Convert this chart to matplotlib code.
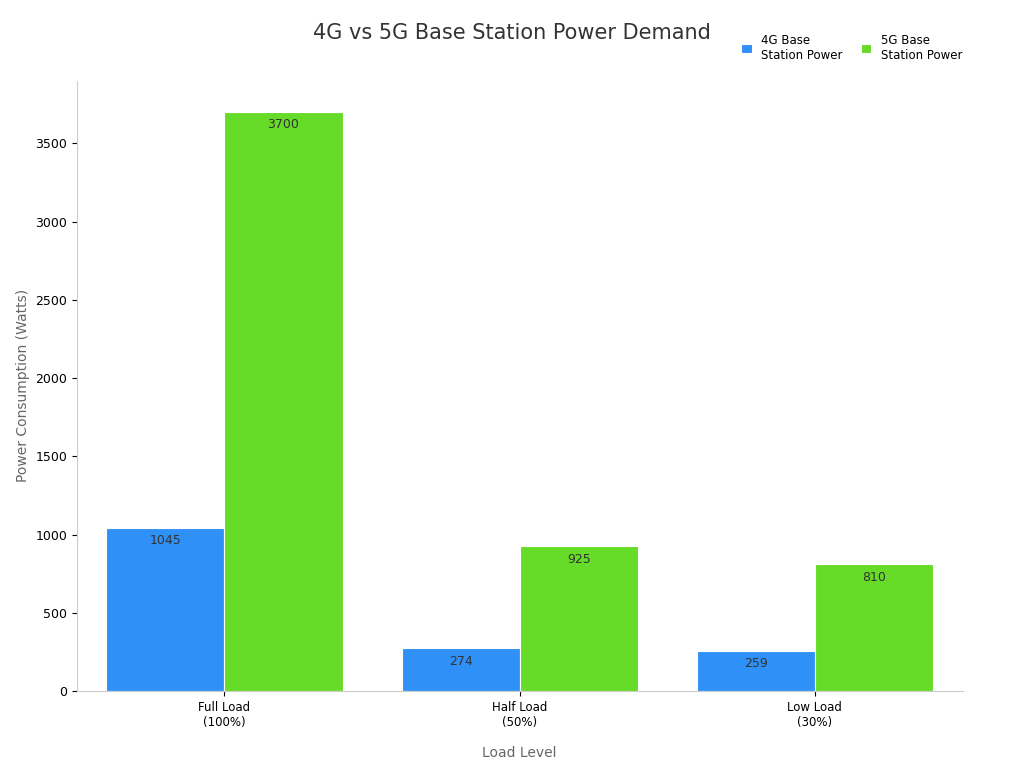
import matplotlib.pyplot as plt
import numpy as np

categories = ["Full Load\n(100%)", "Half Load\n(50%)", "Low Load\n(30%)"]
power_4g = [1045, 274, 259]
power_5g = [3700, 925, 810]

fig = plt.figure(figsize=(10.24, 7.68), dpi=100)
ax = fig.add_axes([0.075, 0.1, 0.865, 0.795])

x = np.arange(len(categories))
w = 0.4
b1 = ax.bar(x - w / 2, power_4g, w, color="#2f91f8", edgecolor="white", linewidth=0.8, label="4G Base\nStation Power")
b2 = ax.bar(x + w / 2, power_5g, w, color="#66db28", edgecolor="white", linewidth=0.8, label="5G Base\nStation Power")
for bars in (b1, b2):
    for r in bars:
        ax.text(r.get_x() + r.get_width() / 2, r.get_height() - 40, f"{int(r.get_height())}",
                ha="center", va="top", fontsize=9, color="#333333")

ax.set_xlim(-0.5, 2.5)
ax.set_ylim(0, 3900)
ax.set_yticks(range(0, 3501, 500))
ax.set_xticks(x)
ax.set_xticklabels(categories, fontsize=8.5)
ax.tick_params(axis="y", labelsize=9)
ax.set_xlabel("Load Level", fontsize=10, color="#666666", labelpad=12)
ax.set_ylabel("Power Consumption (Watts)", fontsize=10, color="#666666")
for s in ("top", "right"):
    ax.spines[s].set_visible(False)
for s in ("left", "bottom"):
    ax.spines[s].set_color("#cccccc")

fig.text(0.5, 0.957, "4G vs 5G Base Station Power Demand", ha="center", va="center", fontsize=15, color="#333333")
fig.legend(loc="upper right", bbox_to_anchor=(0.95, 0.97), ncol=2, frameon=False, fontsize=8.5,
           handlelength=0.9, handleheight=0.9, columnspacing=1.5)

fig.savefig("out.png")
